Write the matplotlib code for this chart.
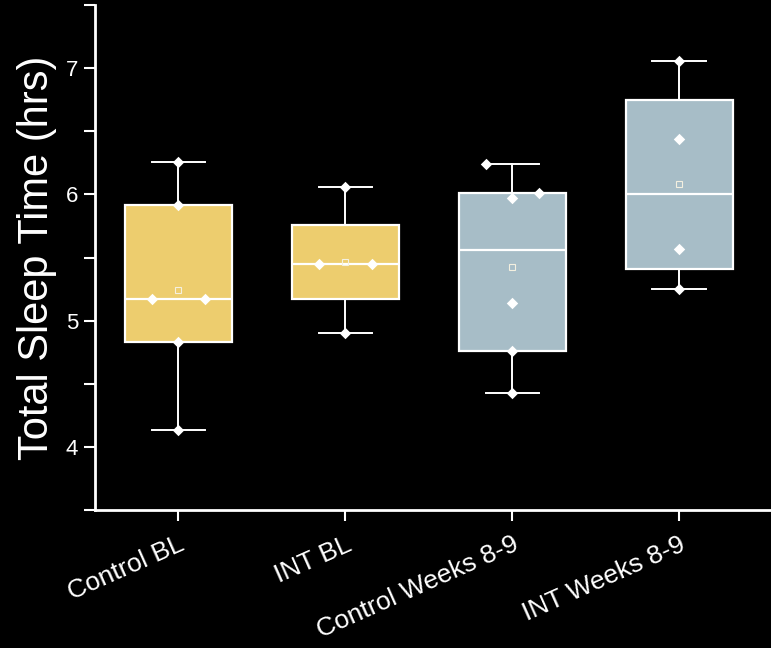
import matplotlib
matplotlib.use("Agg")
import matplotlib.pyplot as plt
import numpy as np

plt.rcParams["font.family"] = ["Liberation Sans", "DejaVu Sans"]

# Groups and summary statistics (hrs)
groups = ["Control BL", "INT BL", "Control Weeks 8-9", "INT Weeks 8-9"]
q1 = [4.83, 5.17, 4.76, 5.41]
median = [5.17, 5.45, 5.56, 6.00]
q3 = [5.92, 5.76, 6.01, 6.75]
whis_lo = [4.13, 4.90, 4.43, 5.25]
whis_hi = [6.26, 6.06, 6.24, 7.06]

# Individual subjects per group
points_control_bl = [6.26, 5.92, 5.17, 5.17, 4.83, 4.13]
points_int_bl = [6.06, 5.45, 5.45, 4.90]
points_control_w89 = [6.24, 6.01, 5.97, 5.14, 4.76, 4.43]
points_int_w89 = [7.06, 6.44, 5.57, 5.25]
points = [points_control_bl, points_int_bl, points_control_w89, points_int_w89]

# horizontal spread of overlapping points, in box-width units
jitter = [
    [0, 0, -1, 1, 0, 0],
    [0, -1, 1, 0],
    [-1, 1, 0, 0, 0, 0],
    [0, 0, 0, 0],
]

box_colors = ["#EDCD6E", "#EDCD6E", "#A7BDC7", "#A7BDC7"]
fg = "white"

fig = plt.figure(figsize=(7.71, 6.48), dpi=100, facecolor="black")
ax = fig.add_axes([0.123, 0.213, 0.877, 0.779], facecolor="black")

stats = []
for i, name in enumerate(groups):
    stats.append({
        "label": name,
        "q1": q1[i], "med": median[i], "q3": q3[i],
        "whislo": whis_lo[i], "whishi": whis_hi[i],
        "mean": float(np.mean(points[i])),
        "fliers": [],
    })

pos = np.arange(1, len(groups) + 1)
bp = ax.bxp(
    stats, positions=pos, widths=0.64, patch_artist=True, showmeans=True,
    boxprops=dict(edgecolor=fg, linewidth=1.6),
    medianprops=dict(color=fg, linewidth=1.6),
    whiskerprops=dict(color=fg, linewidth=1.4),
    capprops=dict(color=fg, linewidth=1.4),
    capwidths=0.32,
    meanprops=dict(marker="s", markerfacecolor="none", markeredgecolor="#f4f0e0",
                   markersize=4.5, markeredgewidth=0.8),
)
for patch, c in zip(bp["boxes"], box_colors):
    patch.set_facecolor(c)

for i, vals in enumerate(points):
    xs = pos[i] + 0.16 * np.array(jitter[i])
    ax.scatter(xs, vals, marker="D", s=34, color=fg, zorder=5, linewidths=0)

ax.set_xlim(0.5, 4.55)
ax.set_ylim(3.5, 7.5)
ax.set_yticks([4, 5, 6, 7])
ax.set_yticks(np.arange(3.5, 7.51, 0.5), minor=True)
ax.set_xticks(pos)
ax.set_xticklabels(groups, rotation=24, ha="right", va="top",
                   rotation_mode="anchor", fontsize=19, color=fg)
ax.set_ylabel("Total Sleep Time (hrs)", fontsize=30, color=fg, labelpad=6)

for side in ["top", "right"]:
    ax.spines[side].set_visible(False)
for side in ["left", "bottom"]:
    ax.spines[side].set_color(fg)
    ax.spines[side].set_linewidth(2)

ax.tick_params(axis="y", which="major", colors=fg, labelsize=16, length=8, width=1.5, pad=4)
ax.tick_params(axis="y", which="minor", colors=fg, length=8, width=1.5)
ax.tick_params(axis="x", which="major", colors=fg, length=8, width=1.5, pad=8)

fig.savefig("out.png", dpi=100, facecolor="black")
